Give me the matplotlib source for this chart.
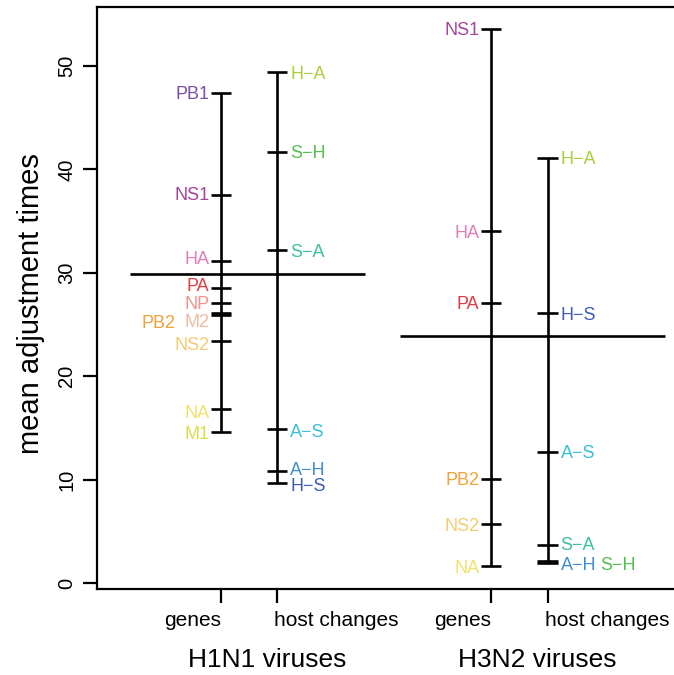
import matplotlib
matplotlib.use("Agg")
import matplotlib.pyplot as plt

plt.rcParams['font.family'] = ['Liberation Sans', 'DejaVu Sans']

# group positions on the x axis (genes / host changes for each subtype)
group_names = ["genes", "host changes", "genes", "host changes"]
group_x = [1.0, 2.0, 5.8, 6.8]
subtypes = ["H1N1 viruses", "H3N2 viruses"]

# H1N1 genes
h1_genes = ["PB1", "NS1", "HA", "PA", "NP", "M2", "PB2", "NS2", "NA", "M1"]
h1_gene_vals = [47.4, 37.5, 31.1, 28.5, 27.1, 26.1, 25.9, 23.4, 16.8, 14.6]
# H1N1 host changes
h1_hosts = ["H\u2212A", "S\u2212H", "S\u2212A", "A\u2212S", "A\u2212H", "H\u2212S"]
h1_host_vals = [49.4, 41.7, 32.2, 14.9, 10.8, 9.7]
# H3N2 genes
h3_genes = ["NS1", "HA", "PA", "PB2", "NS2", "NA"]
h3_gene_vals = [53.6, 34.0, 27.1, 10.1, 5.7, 1.6]
# H3N2 host changes
h3_hosts = ["H\u2212A", "H\u2212S", "A\u2212S", "S\u2212A", "A\u2212H", "S\u2212H"]
h3_host_vals = [41.1, 26.1, 12.7, 3.7, 2.15, 1.9]

# overall means (horizontal lines)
means = [29.9, 23.9]

colors = {
    "PB1": "#7a4fa3", "NS1": "#a3459b", "HA": "#e07fb8", "PA": "#e23c45",
    "NP": "#f0958e", "M2": "#f3b9a3", "PB2": "#f0a23a", "NS2": "#f3cc72",
    "NA": "#f0e26a", "M1": "#d8df4e",
    "H\u2212A": "#a9cf3c", "S\u2212H": "#52bf4f", "S\u2212A": "#3dbf9e",
    "A\u2212S": "#37bfd3", "A\u2212H": "#3f8ed3", "H\u2212S": "#3f5db4",
}

# label nudges to avoid overlaps: (group index, label) -> (dx, dy) in data units
nudges = {
    (0, "HA"): (0, 0.35), (0, "PA"): (0, 0.4), (0, "M2"): (0, -0.75),
    (0, "PB2"): (-0.6, -0.6), (0, "NS2"): (0, -0.2), (0, "NA"): (0, -0.2),
    (0, "NS1"): (0, 0.15),
    (1, "A\u2212H"): (0, 0.26), (1, "H\u2212S"): (0, -0.16), (1, "A\u2212S"): (0, -0.15),
    (3, "S\u2212A"): (0, 0.16), (3, "A\u2212H"): (0, -0.25), (3, "S\u2212H"): (0.71, 0.0),
}

fig = plt.figure(figsize=(6.74, 6.75), dpi=100)
ax = fig.add_axes([97 / 674, 86 / 675, 603 / 674, 582 / 675])

groups = [(h1_genes, h1_gene_vals), (h1_hosts, h1_host_vals),
          (h3_genes, h3_gene_vals), (h3_hosts, h3_host_vals)]

lw = 1.9
for i, (names, vals) in enumerate(groups):
    x = group_x[i]
    ax.vlines(x, min(vals), max(vals), color="black", lw=lw)
    ax.hlines(vals, x - 0.18, x + 0.18, color="black", lw=lw)
    left = i % 2 == 0
    for name, v in zip(names, vals):
        dx, dy = nudges.get((i, name), (0, 0))
        if left:
            ax.text(x - 0.21 + dx, v + dy, name, ha="right", va="center_baseline",
                    fontsize=13, color=colors[name])
        else:
            ax.text(x + 0.23 + dx, v + dy, name, ha="left", va="center_baseline",
                    fontsize=13, color=colors[name])

# mean lines
ax.hlines(means[0], -0.616, 3.558, color="black", lw=lw)
ax.hlines(means[1], 4.18, 8.886, color="black", lw=lw)

ax.set_xlim(-1.2025, 9.508)
ax.set_ylim(-0.58, 55.7)

ax.spines["right"].set_visible(False)
for s in ["left", "bottom", "top"]:
    ax.spines[s].set_linewidth(1.6)

ax.set_yticks([0, 10, 20, 30, 40, 50])
ax.set_yticklabels(["0", "10", "20", "30", "40", "50"], rotation=90, va="center")
ax.set_xticks(group_x)
ax.set_xticklabels([])
ax.tick_params(axis="both", length=10, width=1.6, labelsize=14.5, pad=5)

# group labels under the x ticks
xt = ax.get_xaxis_transform()
for i, name in enumerate(group_names):
    if i % 2 == 0:
        ax.text(group_x[i], -0.0533, name, ha="right", va="center",
                fontsize=15, transform=xt)
    else:
        ax.text(group_x[i] - 0.05, -0.0533, name, ha="left", va="center",
                fontsize=15, transform=xt)

ax.text(1.82, -0.122, subtypes[0], ha="center", va="center", fontsize=19, transform=xt)
ax.text(6.61, -0.122, subtypes[1], ha="center", va="center", fontsize=19, transform=xt)

fig.text(31.5 / 674, (675 - 304) / 675, "mean adjustment times", rotation=90,
         ha="center", va="center", fontsize=21)

fig.savefig("out.png", dpi=100)
